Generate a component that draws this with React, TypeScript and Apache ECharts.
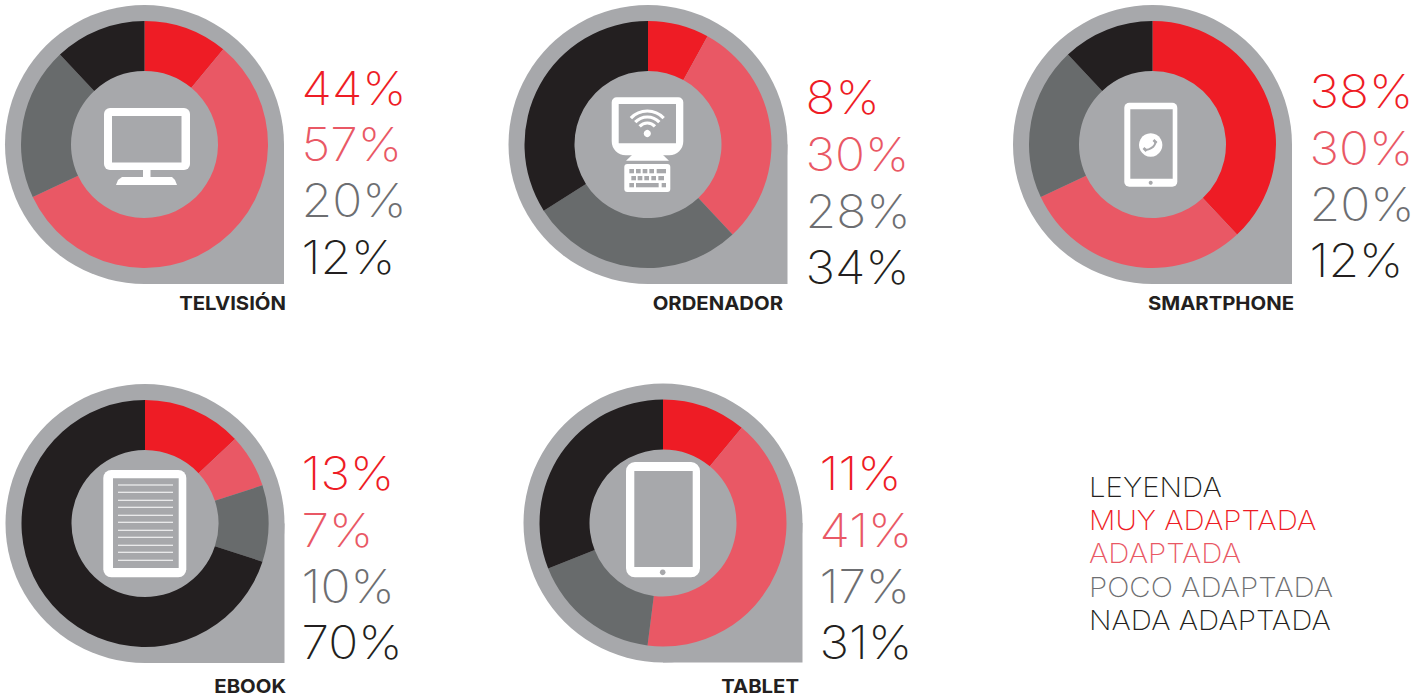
import React, { useEffect, useRef } from "react";
import * as echarts from "echarts";

const TYPE_NAMES = ["TELVISIÓN", "ORDENADOR", "SMARTPHONE", "EBOOK", "TABLET"];
const SLICE_NAMES = ["Muy adaptada", "Adaptada", "Poco adaptada", "Nada adaptada"];
const sliceTelevision = [11, 57, 20, 12];
const sliceOrdenador = [8, 30, 28, 34];
const sliceSmartphone = [38, 30, 20, 12];
const sliceEbook = [13, 7, 10, 70];
const sliceTablet = [11, 41, 17, 31];
const labelsTelevision = ["44%", "57%", "20%", "12%"];
const labelsOrdenador = ["8%", "30%", "28%", "34%"];
const labelsSmartphone = ["38%", "30%", "20%", "12%"];
const labelsEbook = ["13%", "7%", "10%", "70%"];
const labelsTablet = ["11%", "41%", "17%", "31%"];
const LEGEND_TITLE = "LEYENDA";
const LEGEND_ITEMS = ["MUY ADAPTADA", "ADAPTADA", "POCO ADAPTADA", "NADA ADAPTADA"];

const SLICE_COLORS = ["#ee1c25", "#e95865", "#686b6c", "#231f20"];
const TEXT_COLORS = ["#ee1c25", "#e95865", "#6d6e71", "#231f20"];
const DROP = "#a7a8ab";
const WHITE = "#ffffff";
const THIN = '"Inter", "Lato", sans-serif';

const PANELS = [
  { cx: 144.5, cy: 144.5, values: sliceTelevision, labels: labelsTelevision, tx: 301.5, ys: [89, 145, 201, 258], nameX: 286, nameY: 303 },
  { cx: 648, cy: 144.5, values: sliceOrdenador, labels: labelsOrdenador, tx: 805.5, ys: [98, 155, 212, 268], nameX: 783, nameY: 303 },
  { cx: 1152.5, cy: 144.5, values: sliceSmartphone, labels: labelsSmartphone, tx: 1309.5, ys: [92, 149, 205, 261], nameX: 1294, nameY: 303 },
  { cx: 145, cy: 523.5, values: sliceEbook, labels: labelsEbook, tx: 301.5, ys: [474, 531, 587, 643], nameX: 286, nameY: 686 },
  { cx: 663, cy: 523, values: sliceTablet, labels: labelsTablet, tx: 819.5, ys: [474, 531, 587, 643], nameX: 799, nameY: 686 },
];

const rect = (x: number, y: number, w: number, h: number, r: number | number[], fill: string) => ({
  type: "rect", z: 5, silent: true, shape: { x, y, width: w, height: h, r }, style: { fill },
});
const circle = (cx: number, cy: number, r: number, fill: string) => ({
  type: "circle", z: 5, silent: true, shape: { cx, cy, r }, style: { fill },
});
const poly = (points: number[][], fill: string) => ({
  type: "polygon", z: 5, silent: true, shape: { points }, style: { fill },
});
const wifiArc = (cx: number, cy: number, r: number) => ({
  type: "arc", z: 5, silent: true,
  shape: { cx, cy, r, startAngle: -Math.PI * 0.76, endAngle: -Math.PI * 0.24, clockwise: true },
  style: { stroke: WHITE, lineWidth: 3.2, fill: "none" },
});

function tvIcon() {
  return [
    rect(104, 108, 86, 62, 6, WHITE),
    rect(112, 116, 69.5, 46.5, 0, DROP),
    rect(143, 170, 7.5, 8, 0, WHITE),
    poly([[116, 185], [118, 180], [122, 177], [172, 177], [175, 180], [177, 185]], WHITE),
  ];
}
function pcIcon() {
  const keys: number[][] = [
    [118, 267, 14], [138, 267, 14], [158, 267, 14], [178, 267, 14], [200, 267, 28],
    [124, 288, 14], [143, 288, 14], [163, 288, 14], [184, 288, 14], [205, 288, 17],
    [118, 309, 14], [138, 309, 68], [215, 309, 13],
  ];
  return [
    rect(611.7, 97.3, 71.6, 58, [5, 5, 14, 14], WHITE),
    rect(618.7, 104, 57.3, 39.3, 0, DROP),
    circle(647.3, 133.5, 3.6, WHITE),
    wifiArc(647.3, 133.5, 10.5),
    wifiArc(647.3, 133.5, 16.5),
    wifiArc(647.3, 133.5, 22.5),
    poly([[632, 155], [663, 155], [669, 160.7], [626, 160.7]], WHITE),
    rect(624.3, 164, 46, 28, 3, WHITE),
    ...keys.map(([x, y, w]) => rect(590 + x / 3, 80 + y / 3, w / 3, 4.3, 0, DROP)),
  ];
}
function phoneIcon() {
  return [
    rect(1124.3, 102.7, 53, 84, 5, WHITE),
    rect(1130.3, 109.3, 42.4, 69.4, 0, DROP),
    circle(1150.7, 145, 11.7, WHITE),
    circle(1150.7, 182.7, 2, DROP),
    {
      type: "bezierCurve", z: 5, silent: true,
      shape: { x1: 1144.5, y1: 149, x2: 1155.5, y2: 141, cpx1: 1147, cpy1: 151.5, cpx2: 1156, cpy2: 147 },
      style: { stroke: DROP, lineWidth: 2, fill: "none" },
    },
    { type: "line", z: 5, silent: true, shape: { x1: 1143.5, y1: 148, x2: 1146.5, y2: 151 }, style: { stroke: DROP, lineWidth: 2.6 } },
    { type: "line", z: 5, silent: true, shape: { x1: 1153.5, y1: 140, x2: 1156.5, y2: 143 }, style: { stroke: DROP, lineWidth: 2.6 } },
  ];
}
function ebookIcon() {
  const rows = [485, 492.3, 500.3, 507.3, 515.3, 522.3, 530.3, 537.3, 545.3, 552.3, 560.3];
  return [
    rect(103.3, 470, 83, 107.3, 8, WHITE),
    rect(113, 478.3, 65.7, 89.7, 0, DROP),
    ...rows.map((y) => rect(118, y - 0.5, 55, 1, 0, WHITE)),
  ];
}
function tabletIcon() {
  return [
    rect(626, 462, 74, 115.3, 9, WHITE),
    rect(634.3, 471, 58.4, 96, 0, DROP),
    circle(662.7, 572.3, 2.8, DROP),
  ];
}

function dropShape(cx: number, cy: number) {
  return [
    { type: "circle", z: 0, silent: true, shape: { cx, cy, r: 139.5 }, style: { fill: DROP } },
    { type: "rect", z: 0, silent: true, shape: { x: cx, y: cy, width: 139.5, height: 139.5 }, style: { fill: DROP } },
  ];
}

function buildOption() {
  const texts: any[] = [];
  PANELS.forEach((p, i) => {
    p.labels.forEach((label, j) => {
      texts.push({
        type: "text", z: 5, silent: true, x: p.tx, y: p.ys[j], scaleX: 1.08,
        style: { text: label, fill: TEXT_COLORS[j], font: `200 46px ${THIN}`, textAlign: "left", textVerticalAlign: "middle" },
      });
    });
    texts.push({
      type: "text", z: 5, silent: true, x: p.nameX, y: p.nameY, scaleX: 1.07,
      style: { text: TYPE_NAMES[i], fill: "#231f20", font: '700 19px "Inter", sans-serif', textAlign: "right", textVerticalAlign: "middle" },
    });
  });
  const legendYs = [487, 520, 553, 587, 620];
  [LEGEND_TITLE, ...LEGEND_ITEMS].forEach((t, i) => {
    texts.push({
      type: "text", z: 5, silent: true, x: 1089, y: legendYs[i], scaleX: 1.09,
      style: {
        text: t, fill: i === 0 ? "#231f20" : TEXT_COLORS[i - 1],
        font: `200 27px ${THIN}`, textAlign: "left", textVerticalAlign: "middle",
      },
    });
  });

  return {
    animation: false,
    backgroundColor: "#ffffff",
    graphic: {
      elements: [
        ...PANELS.flatMap((p) => dropShape(p.cx, p.cy)),
        ...tvIcon(), ...pcIcon(), ...phoneIcon(), ...ebookIcon(), ...tabletIcon(),
        ...texts,
      ],
    },
    series: PANELS.map((p, i) => ({
      type: "pie",
      name: TYPE_NAMES[i],
      center: [p.cx, p.cy],
      radius: [73.5, 123.5],
      startAngle: 90,
      clockwise: true,
      silent: true,
      z: 2,
      label: { show: false },
      labelLine: { show: false },
      emphasis: { disabled: true },
      data: p.values.map((v, j) => ({ name: SLICE_NAMES[j], value: v, itemStyle: { color: SLICE_COLORS[j] } })),
    })),
  };
}

export default function App() {
  const ref = useRef<HTMLDivElement>(null);
  useEffect(() => {
    document.body.style.margin = "0";
    const chart = echarts.init(ref.current!, undefined, { renderer: "svg" });
    chart.setOption(buildOption() as any);
    return () => chart.dispose();
  }, []);
  return <div ref={ref} style={{ width: 1428, height: 698 }} />;
}
